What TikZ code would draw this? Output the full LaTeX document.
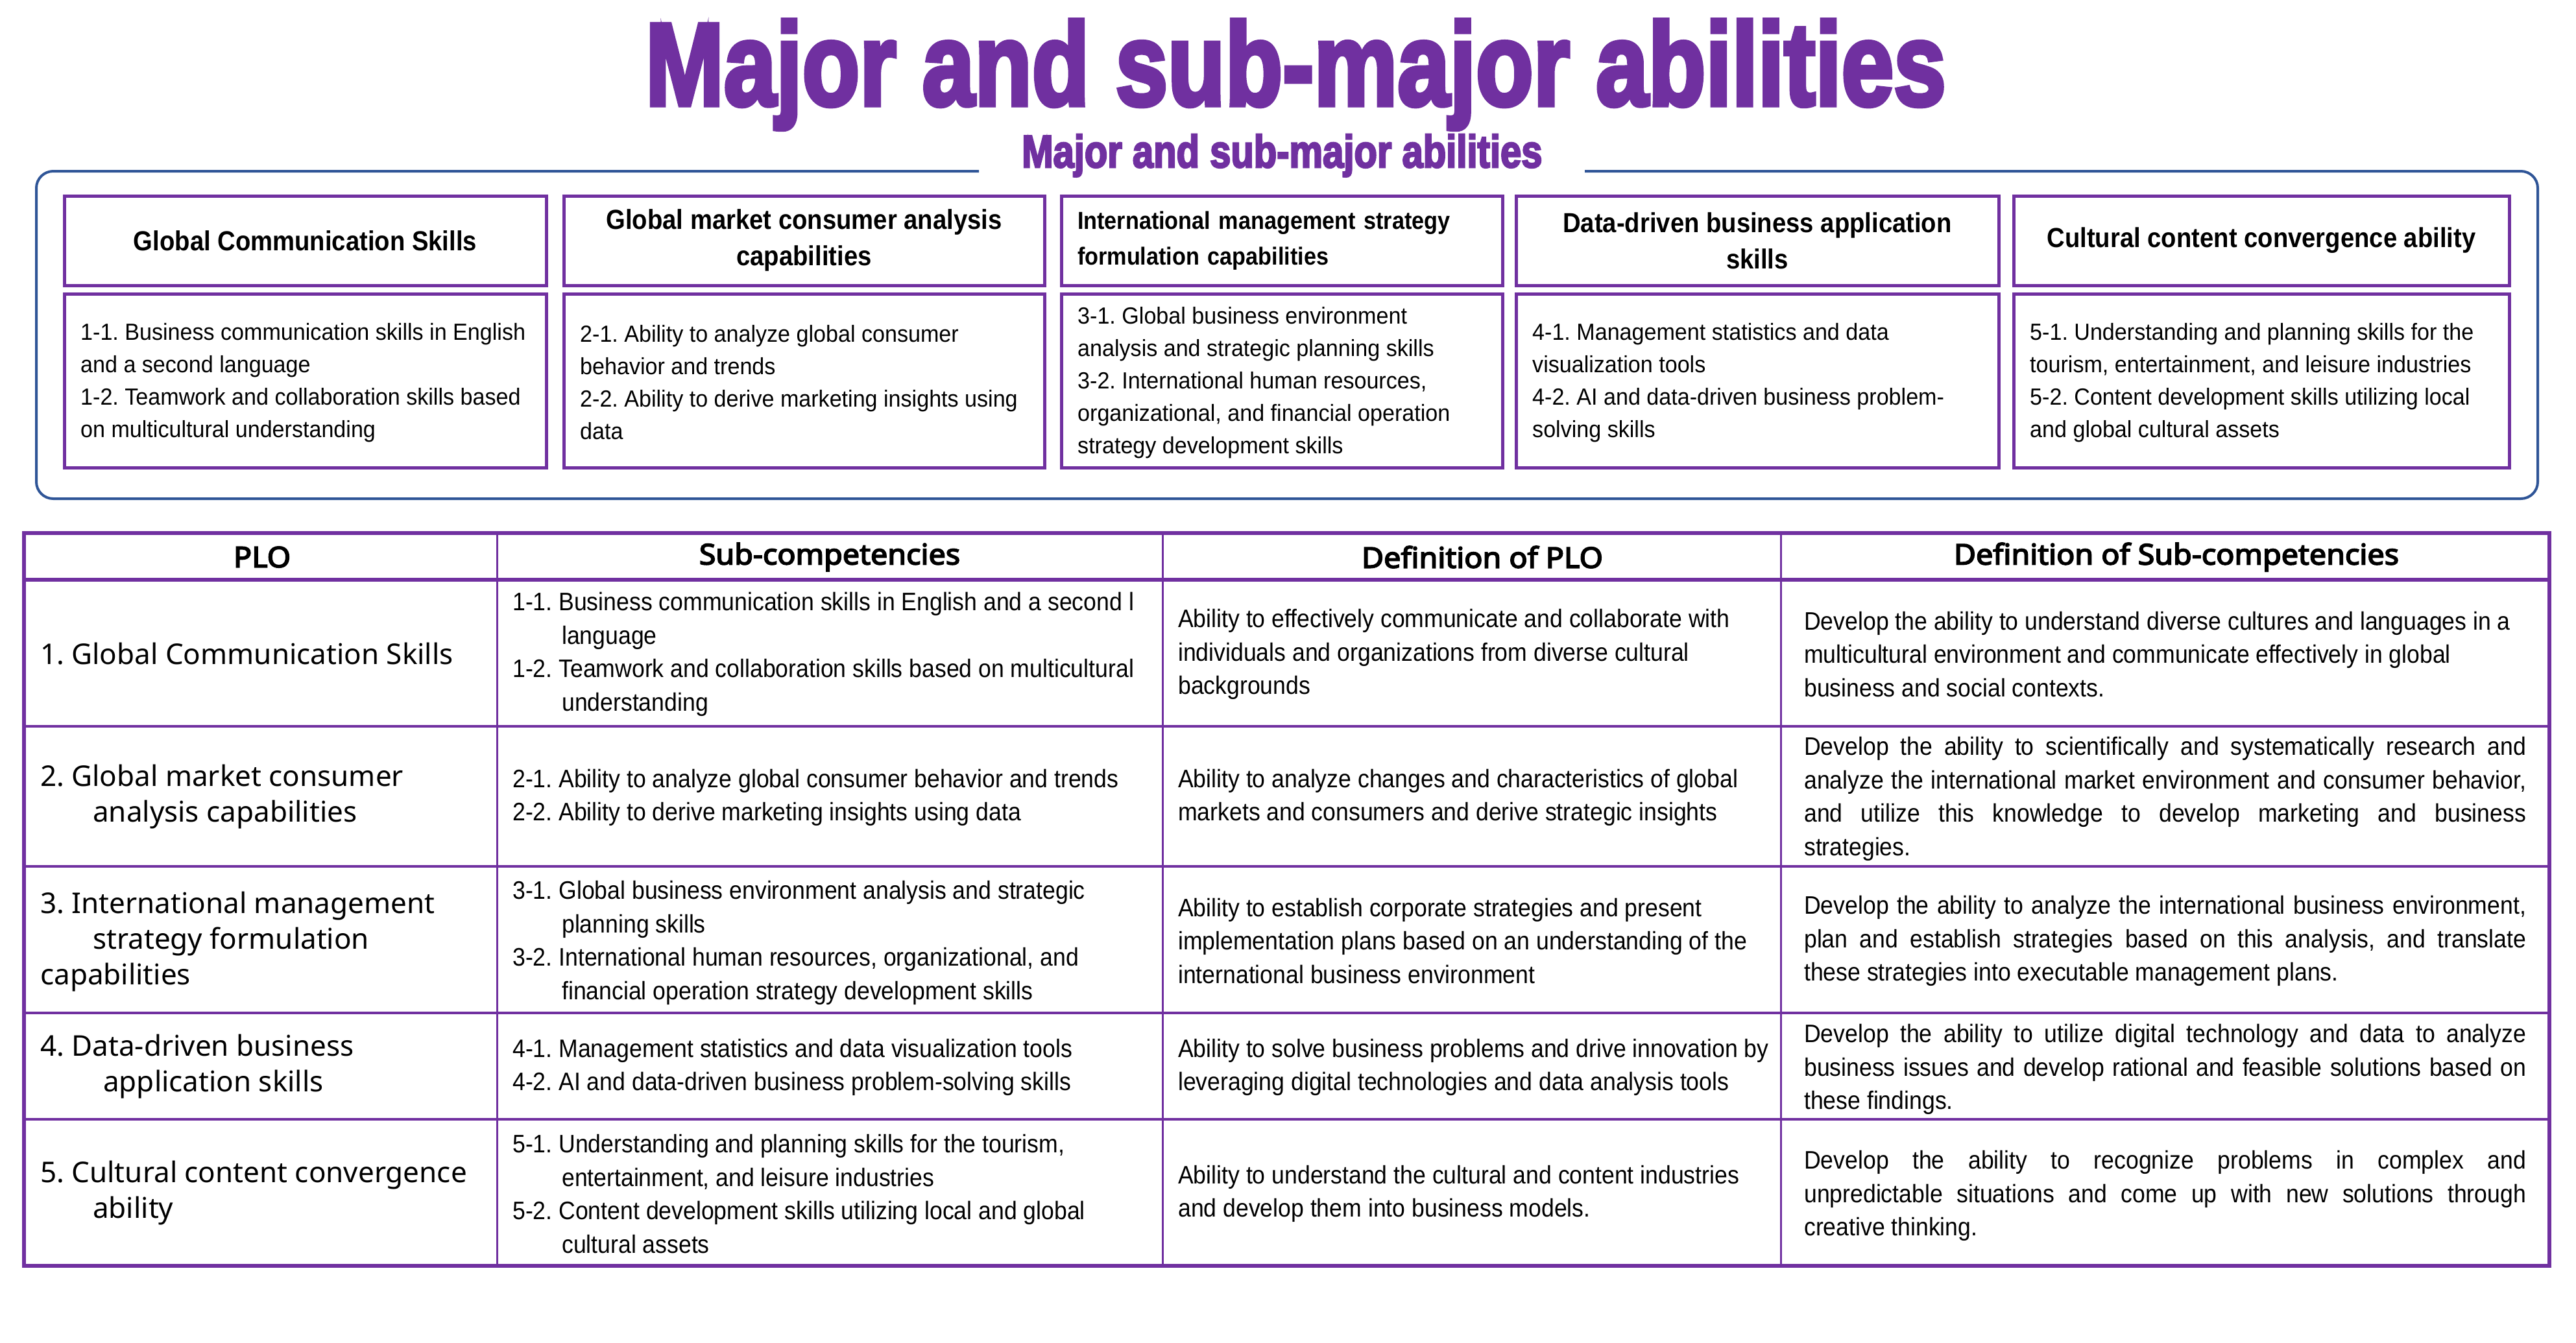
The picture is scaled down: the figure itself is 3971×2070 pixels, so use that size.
\documentclass[tikz,border=0pt]{standalone}
\usepackage{graphicx}
\usepackage{fontspec}
\setmainfont{Liberation Sans}
\newfontfamily\ttlf{Liberation Sans}[BoldFeatures={FakeBold=4}]
\newfontfamily\boxb{Liberation Sans}[FakeStretch=0.9]
\newfontfamily\boxr{Liberation Sans}[FakeStretch=0.947]
\newfontfamily\tabr{Liberation Sans}[FakeStretch=0.913]
\newfontfamily\mgf{Noto Sans}
\newfontfamily\mgb{Noto Sans}[FakeStretch=1.06,FakeBold=4]
\definecolor{ppl}{HTML}{7030A0}
\definecolor{frm}{HTML}{2F5597}
\newcommand\jl[1]{\makebox[1113pt][s]{#1}}
\newcommand\hg{\hspace*{76pt}}
\newcommand\pg{\hspace*{81pt}}
\tikzset{
  hbox/.style={draw=ppl, line width=5pt, minimum height=138pt, inner sep=0pt, align=center,
    font=\boxb\bfseries\fontsize{42.5}{56}\selectfont},
  lbox/.style={draw=ppl, line width=5pt, minimum height=268pt, inner sep=0pt},
  btxt/.style={anchor=west, inner sep=0pt, align=left, font=\boxr\fontsize{36}{50}\selectfont},
  thtxt/.style={inner sep=0pt, font=\mgb\fontsize{44}{55}\selectfont},
  cplo/.style={anchor=west, inner sep=0pt, align=left, font=\mgf\fontsize{44}{55}\selectfont},
  ctxt/.style={anchor=west, inner sep=0pt, align=left, font=\tabr\fontsize{39}{51.5}\selectfont},
  tline/.style={draw=ppl, line width=#1},
}
\begin{document}
\frenchspacing
\begin{tikzpicture}[x=1pt,y=-1pt]
\useasboundingbox (0,0) rectangle (3971,2070);
% titles
\node[anchor=base west, inner sep=0pt, text=ppl] (title) at (995,162)
  {\resizebox{2003pt}{131pt}{\ttlf\bfseries Major and sub-major abilities}};
\node[anchor=base west, inner sep=0pt, text=ppl] (subtitle) at (1575,258)
  {\resizebox{802pt}{51pt}{\ttlf\bfseries Major and sub-major abilities}};
% frame
\draw[draw=frm, line width=4pt, rounded corners=26pt]
  (1509,264) -- (56,264) -- (56,769) -- (3912,769) -- (3912,264) -- (2443,264);
% header boxes
\node[hbox, minimum width=743pt] (h1) at (470.5,371) {Global Communication Skills};
\node[hbox, minimum width=741pt] (h2) at (1239.5,371) {Global market consumer analysis\\capabilities};
\node[hbox, minimum width=680pt, align=left, text width=630pt,
      font=\boxb\bfseries\fontsize{38}{55}\selectfont] (h3) at (1976,371)
  {International management strategy\\formulation capabilities};
\node[hbox, minimum width=744pt] (h4) at (2709,371) {Data-driven business application\\skills};
\node[hbox, minimum width=764pt] (h5) at (3486,371) {Cultural content convergence ability};
% lower boxes
\node[lbox, minimum width=743pt] (b1) at (470.5,587) {};
\node[lbox, minimum width=741pt] (b2) at (1239.5,587) {};
\node[lbox, minimum width=680pt] (b3) at (1976,587) {};
\node[lbox, minimum width=744pt] (b4) at (2709,587) {};
\node[lbox, minimum width=764pt] (b5) at (3486,587) {};
\node[btxt] (t1) at (124,590)
  {1-1. Business communication skills in English\\and a second language\\1-2. Teamwork and collaboration skills based\\on multicultural understanding};
\node[btxt] (t2) at (894,590)
  {2-1. Ability to analyze global consumer\\behavior and trends\\2-2. Ability to derive marketing insights using\\data};
\node[btxt] (t3) at (1661,590)
  {3-1. Global business environment\\analysis and strategic planning skills\\3-2. International human resources,\\organizational, and financial operation\\strategy development skills};
\node[btxt] (t4) at (2362,590)
  {4-1. Management statistics and data\\visualization tools\\4-2. AI and data-driven business problem-\\solving skills};
\node[btxt] (t5) at (3129,590)
  {5-1. Understanding and planning skills for the\\tourism, entertainment, and leisure industries\\5-2. Content development skills utilizing local\\and global cultural assets};
% table grid
\draw[tline=4pt] (37,1120) -- (3930,1120);
\draw[tline=4pt] (37,1336) -- (3930,1336);
\draw[tline=4pt] (37,1562) -- (3930,1562);
\draw[tline=4pt] (37,1726) -- (3930,1726);
\draw[tline=3pt] (766,822) -- (766,1952);
\draw[tline=3pt] (1792,822) -- (1792,1952);
\draw[tline=3pt] (2745,822) -- (2745,1952);
\draw[tline=6pt] (37,894) -- (3930,894);
\draw[tline=6pt] (37,822) rectangle (3930,1952);
% table header
\node[thtxt] (th1) at (404,859) {PLO};
\node[thtxt] (th2) at (1279,859) {Sub-competencies};
\node[thtxt] (th3) at (2285,859) {Definition of PLO};
\node[thtxt] (th4) at (3355,859) {Definition of Sub-competencies};
% row 1
\node[cplo] (r1a) at (62,1008) {1. Global Communication Skills};
\node[ctxt] (r1b) at (790,1009) {1-1. Business communication skills in English and a second l\\\hg language\\1-2. Teamwork and collaboration skills based on multicultural\\\hg understanding};
\node[ctxt] (r1c) at (1816,1009) {Ability to effectively communicate and collaborate with\\individuals and organizations from diverse cultural\\backgrounds};
\node[ctxt] (r1d) at (2781,1009) {Develop the ability to understand diverse cultures and languages in a\\multicultural environment and communicate effectively in global\\business and social contexts.};
% row 2
\node[cplo] (r2a) at (62,1229) {2. Global market consumer\\\pg analysis capabilities};
\node[ctxt] (r2b) at (790,1230) {2-1. Ability to analyze global consumer behavior and trends\\2-2. Ability to derive marketing insights using data};
\node[ctxt] (r2c) at (1816,1230) {Ability to analyze changes and characteristics of global\\markets and consumers and derive strategic insights};
\node[ctxt] (r2d) at (2781,1232) {\jl{Develop the ability to scientifically and systematically research and}\\\jl{analyze the international market environment and consumer behavior,}\\\jl{and utilize this knowledge to develop marketing and business}\\strategies.};
% row 3
\node[cplo] (r3a) at (62,1452) {3. International management\\\pg strategy formulation\\capabilities};
\node[ctxt] (r3b) at (790,1454) {3-1. Global business environment analysis and strategic\\\hg planning skills\\3-2. International human resources, organizational, and\\\hg financial operation strategy development skills};
\node[ctxt] (r3c) at (1816,1451) {Ability to establish corporate strategies and present\\implementation plans based on an understanding of the\\international business environment};
\node[ctxt] (r3d) at (2781,1451) {\jl{Develop the ability to analyze the international business environment,}\\\jl{plan and establish strategies based on this analysis, and translate}\\these strategies into executable management plans.};
% row 4
\node[cplo] (r4a) at (62,1645) {4. Data-driven business\\\hspace*{97pt}application skills};
\node[ctxt] (r4b) at (790,1646) {4-1. Management statistics and data visualization tools\\4-2. AI and data-driven business problem-solving skills};
\node[ctxt] (r4c) at (1816,1646) {Ability to solve business problems and drive innovation by\\leveraging digital technologies and data analysis tools};
\node[ctxt] (r4d) at (2781,1649) {\jl{Develop the ability to utilize digital technology and data to analyze}\\\jl{business issues and develop rational and feasible solutions based on}\\these findings.};
% row 5
\node[cplo] (r5a) at (62,1840) {5. Cultural content convergence\\\pg ability};
\node[ctxt] (r5b) at (790,1841) {5-1. Understanding and planning skills for the tourism,\\\hg entertainment, and leisure industries\\5-2. Content development skills utilizing local and global\\\hg cultural assets};
\node[ctxt] (r5c) at (1816,1841) {Ability to understand the cultural and content industries\\and develop them into business models.};
\node[ctxt] (r5d) at (2781,1844) {\jl{Develop the ability to recognize problems in complex and}\\\jl{unpredictable situations and come up with new solutions through}\\creative thinking.};
\end{tikzpicture}
\end{document}
